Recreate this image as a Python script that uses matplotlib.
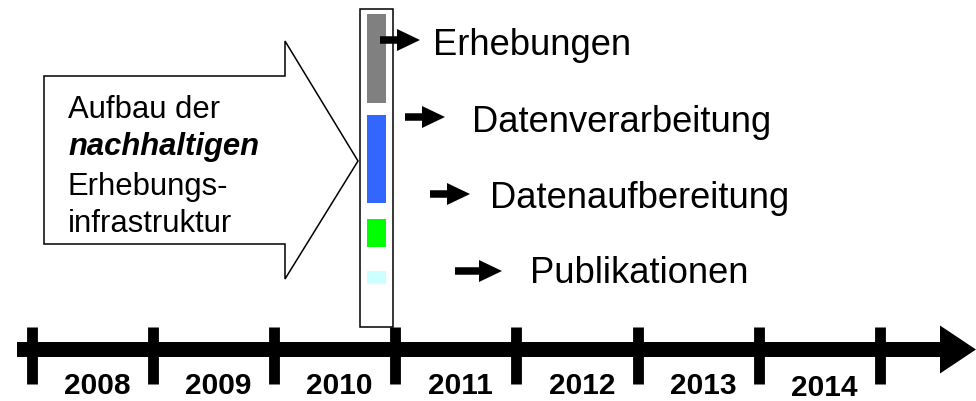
import matplotlib.pyplot as plt
from matplotlib.patches import Polygon, Rectangle, FancyArrow

# timeline data
years = [2008, 2009, 2010, 2011, 2012, 2013, 2014]
tick_years = years + [2015]

# phases of the survey cycle
stages = ['Erhebungen', 'Datenverarbeitung', 'Datenaufbereitung', 'Publikationen']
stage_colors = ['#808080', '#3366ff', '#00ff00', '#ccffff']

callout_lines = ['Aufbau der', 'nachhaltigen', 'Erhebungs-', 'infrastruktur']

plt.rcParams['font.family'] = ['Liberation Sans', 'DejaVu Sans']

W, H = 976, 402
fig = plt.figure(figsize=(W / 100, H / 100), dpi=100)

# axes in years for the timeline (y in pixels)
px_per_year = 121.1
x0 = 32  # pixel of the first tick
ax_t = fig.add_axes([0, 0, 1, 1])
ax_t.set_xlim(years[0] - x0 / px_per_year, years[0] + (W - x0) / px_per_year)
ax_t.set_ylim(H, 0)
ax_t.axis('off')

# overlay axes in pixels for the drawing
ax = fig.add_axes([0, 0, 1, 1])
ax.set_xlim(0, W)
ax.set_ylim(H, 0)
ax.axis('off')

# --- timeline
line_y = 350.5
start = years[0] - 15 / px_per_year
end = ax_t.get_xlim()[1]
ax_t.add_patch(FancyArrow(start, line_y, end - start, 0, width=15, head_width=48,
                          head_length=36 / px_per_year, length_includes_head=True,
                          color='black', lw=0))
ax_t.vlines(tick_years, 328, 385, colors='black', linewidth=7.8, capstyle='butt')
for i, yr in enumerate(years):
    base = 396 if yr == 2014 else 394
    ax_t.text(yr + 0.5 + 0.04, base, str(yr), ha='center', va='baseline',
              fontsize=21.5, fontweight='bold')

# --- big callout arrow
callout = Polygon([(44, 77), (285, 77), (285, 42), (358, 162), (285, 280),
                   (285, 245), (44, 245)], closed=True, facecolor='white',
                  edgecolor='black', lw=1.1)
ax.add_patch(callout)
baselines = [118, 155, 195, 232]
for txt, b in zip(callout_lines, baselines):
    if txt == 'nachhaltigen':
        ax.text(68, b, txt, fontsize=22.3, fontweight='bold', style='italic', va='baseline')
    else:
        ax.text(68, b, txt, fontsize=22.3, va='baseline')

# --- tall box with coloured phase bars
ax.add_patch(Rectangle((360, 10), 33, 318, facecolor='white', edgecolor='black', lw=1.1))
bar_top = [15, 116, 220, 272]
bar_bottom = [104, 204, 248, 285]
for c, t, b in zip(stage_colors, bar_top, bar_bottom):
    ax.add_patch(Rectangle((366.5, t), 19.5, b - t, facecolor=c, edgecolor='none'))

# --- phase labels with small arrows
arrow_tail = [380, 405, 430, 455]
arrow_tip = [420, 445, 470, 502]
arrow_y = [41, 118, 195, 272]
text_x = [433, 472, 490, 530]
text_base = [55, 132, 208, 283]
for s, a0, a1, ay, tx, tb in zip(stages, arrow_tail, arrow_tip, arrow_y, text_x, text_base):
    ax.add_patch(FancyArrow(a0, ay, a1 - a0, 0, width=7.5, head_width=22, head_length=23,
                            length_includes_head=True, color='black', lw=0, zorder=5))
    ax.text(tx, tb, s, fontsize=26.2, va='baseline')

fig.savefig('out.png', dpi=100)
